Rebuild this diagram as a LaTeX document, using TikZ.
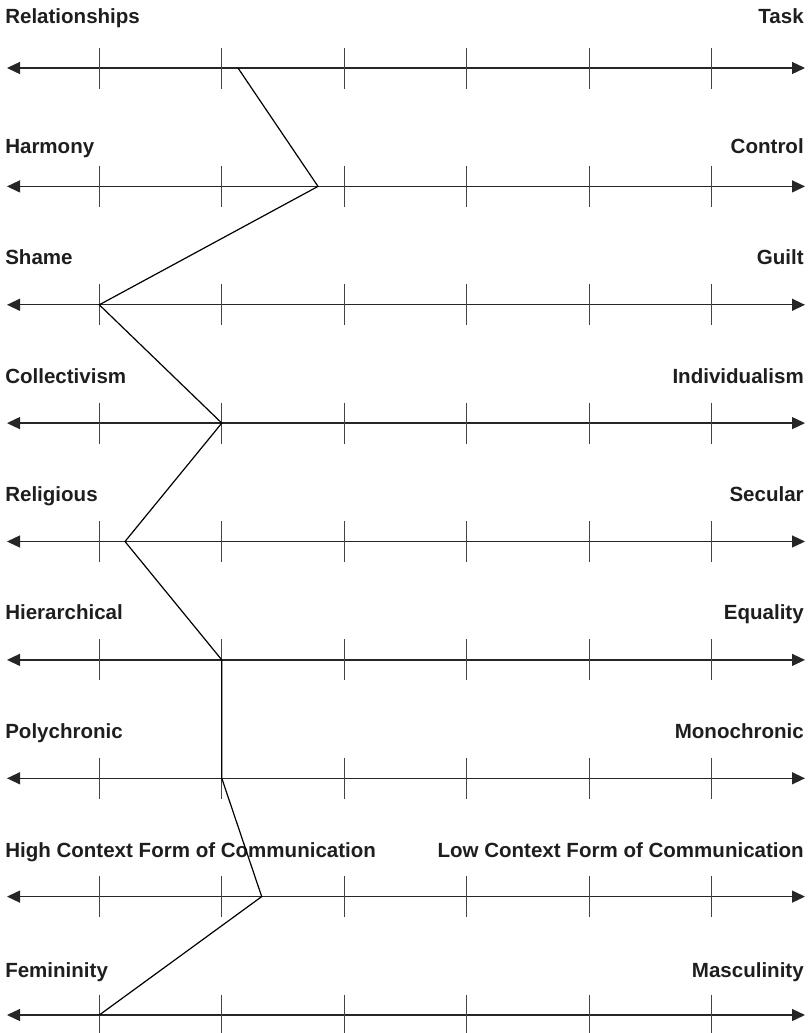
\documentclass[tikz,border=0pt]{standalone}
\usepackage{fontspec}
\setmainfont{Liberation Sans}
\usetikzlibrary{arrows.meta}
\definecolor{axiscol}{HTML}{262626}
\definecolor{tickcol}{HTML}{444444}
\definecolor{labelcol}{HTML}{1E1E1E}
\begin{document}
\begin{tikzpicture}[x=0.75pt,y=-0.75pt,
  axis/.style={line width=1.0pt, draw=axiscol, {Triangle[length=9.75pt,width=9pt]}-{Triangle[length=9.75pt,width=9pt]}},
  tickmark/.style={line width=0.8pt, draw=tickcol},
  profile/.style={line width=0.9pt, draw=black, line join=miter},
  lbl/.style={font=\bfseries\fontsize{15.4}{18}\selectfont, text=labelcol, inner sep=0pt, anchor=base west},
  rlbl/.style={lbl, anchor=base east}]
\useasboundingbox (0,0) rectangle (812,1033);
\foreach \i/\y/\b/\l/\r/\px in {
  1/68/23/{Relationships}/{Task}/238,
  2/186.4/153/{Harmony}/{Control}/318,
  3/304.8/264/{Shame}/{Guilt}/99.3,
  4/423.1/383/{Collectivism}/{Individualism}/221.8,
  5/541.5/501/{Religious}/{Secular}/125,
  6/659.9/619/{Hierarchical}/{Equality}/221.8,
  7/778.3/738/{Polychronic}/{Monochronic}/221.8,
  8/896.6/857/{High Context Form of Communication}/{Low Context Form of Communication}/261.7,
  9/1015/977/{Femininity}/{Masculinity}/99.3}{
  \coordinate (L\i) at (7,\y);
  \coordinate (R\i) at (805,\y);
  \coordinate (p\i) at (\px,\y);
  \draw[axis] (L\i) -- (R\i);
  \foreach \k/\tx in {1/99.3,2/221.8,3/344.3,4/466.8,5/589.3,6/711.8}{
    \coordinate (t\i-\k-a) at (\tx,\y-20.5);
    \coordinate (t\i-\k-b) at (\tx,\y+20.5);
    \draw[tickmark] (t\i-\k-a) -- (t\i-\k-b);
  }
  \node[lbl] (ll\i) at (5,\b) {\l};
  \node[rlbl] (rl\i) at (804,\b) {\r};
}
\draw[profile] (p1) -- (p2) -- (p3) -- (p4) -- (p5) -- (p6) -- (p7) -- (p8) -- (p9);
\end{tikzpicture}
\end{document}
